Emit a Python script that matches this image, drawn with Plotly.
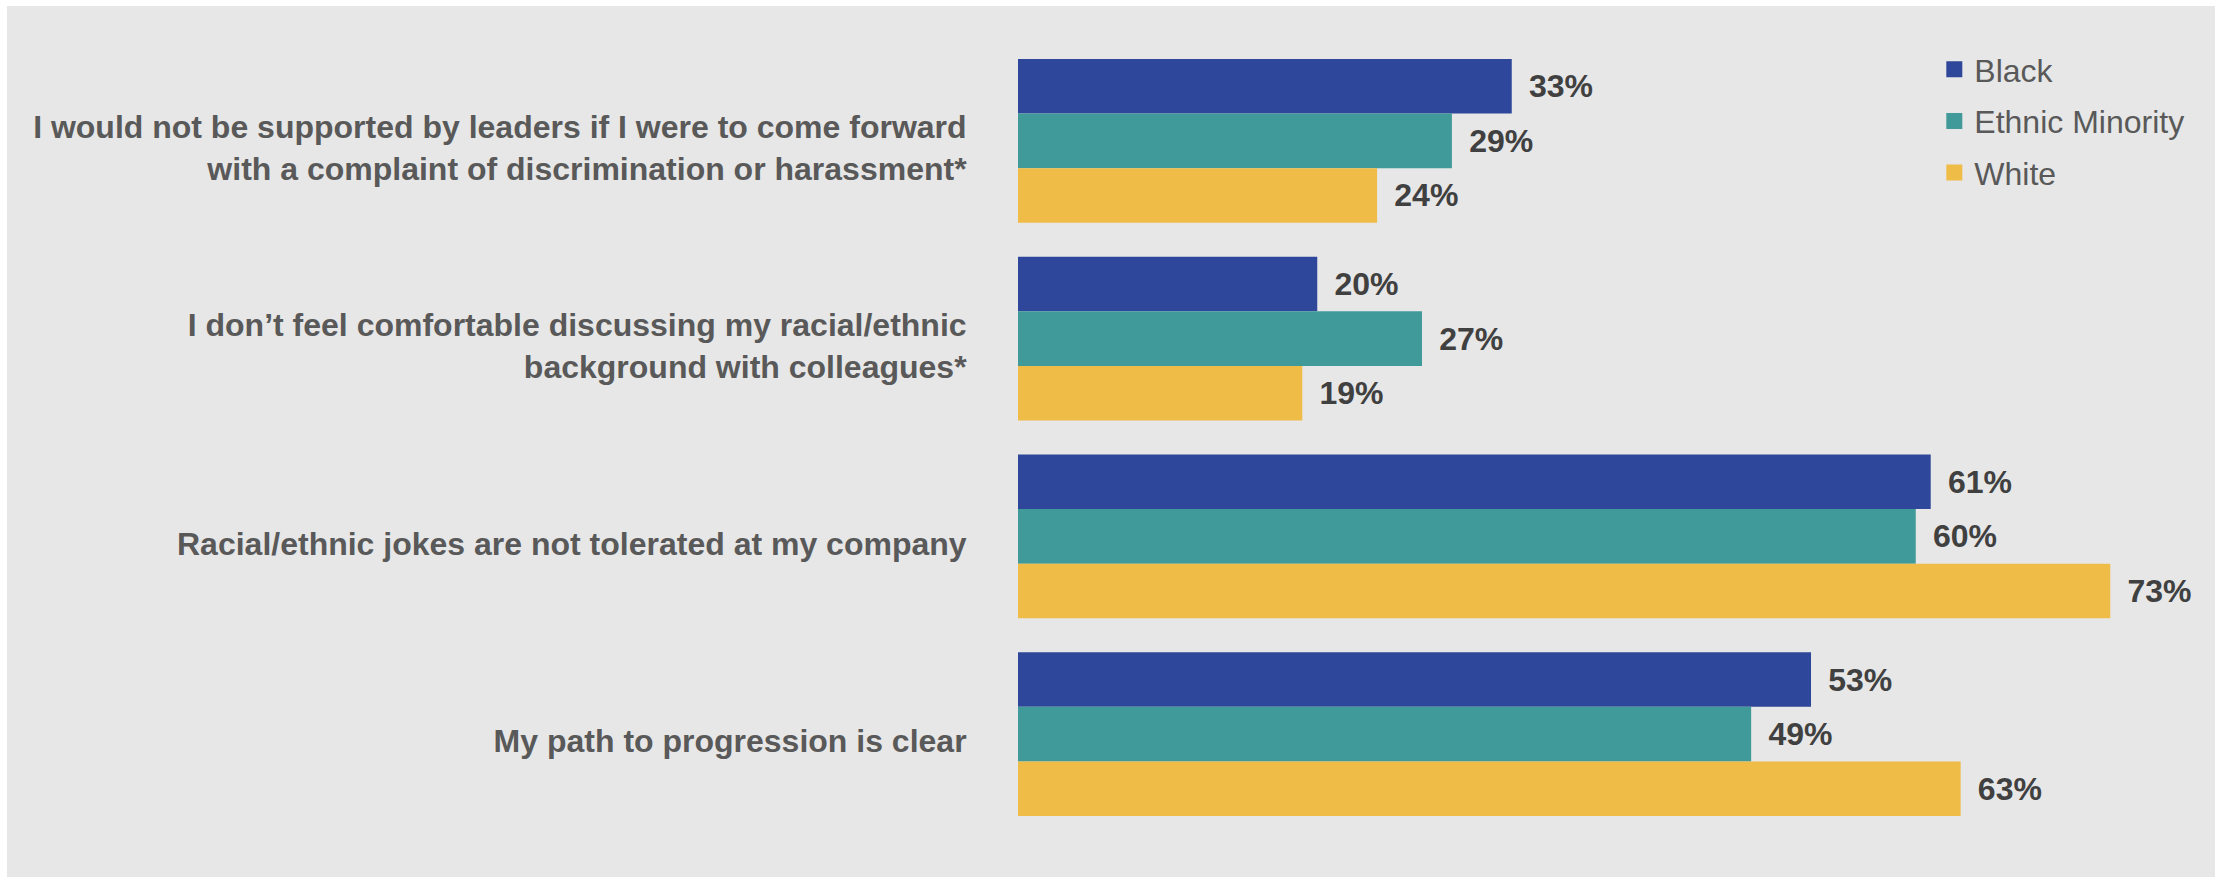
import plotly.graph_objects as go

# Survey statements (top to bottom)
statements = [
    "I would not be supported by leaders if I were to come forward<br>with a complaint of discrimination or harassment*",
    "I don\u2019t feel comfortable discussing my racial/ethnic<br>background with colleagues*",
    "Racial/ethnic jokes are not tolerated at my company",
    "My path to progression is clear",
]

# Share of respondents agreeing (%)
black = [33, 20, 61, 53]
ethnic_minority = [29, 27, 60, 49]
white = [24, 19, 73, 63]

series_names = ["Black", "Ethnic Minority", "White"]
series_values = [black, ethnic_minority, white]
series_colors = ["#2E479A", "#409A99", "#F0BC48"]

FONT = "Liberation Sans, Arial, sans-serif"
BG = "#E7E7E7"

W, H = 2221, 877
ML, MR, MT, MB = 1018, 6, 42, 44
PW = W - ML - MR
PH = H - MT - MB

fig = go.Figure()
for name, vals, color in zip(series_names, series_values, series_colors):
    fig.add_trace(go.Bar(
        name=name,
        y=statements,
        x=vals,
        orientation="h",
        marker=dict(color=color, line=dict(width=0)),
        texttemplate="\u00a0\u2006%{x}%",
        textposition="outside",
        textfont=dict(family=FONT, size=32, color="#404040", weight="bold"),
        cliponaxis=False,
        showlegend=False,
        hoverinfo="skip",
    ))

# legend entries with larger square swatches
for name, color in zip(series_names, series_colors):
    fig.add_trace(go.Scatter(
        name=name,
        x=[None], y=[None],
        mode="markers",
        marker=dict(symbol="square", size=16, color=color, line=dict(width=0)),
        legendgroup=name,
        hoverinfo="skip",
    ))

# light grey panel with a thin white frame around it
fig.add_shape(
    type="rect", xref="paper", yref="paper", layer="below",
    x0=(7 - ML) / PW, x1=(2215 - ML) / PW,
    y0=-(877 - (H - MB)) / PH, y1=1 + (MT - 6) / PH,
    fillcolor=BG, line=dict(width=0),
)

fig.update_layout(
    width=W, height=H,
    margin=dict(l=ML, r=MR, t=MT, b=MB, pad=0),
    paper_bgcolor="white",
    plot_bgcolor=BG,
    barmode="group",
    bargap=0.172,
    bargroupgap=0,
    font=dict(family=FONT, size=32, color="#595959"),
    legend=dict(
        x=0.7655, y=1.0, xanchor="left", yanchor="top",
        bgcolor="rgba(0,0,0,0)",
        font=dict(family=FONT, size=32, color="#595959"),
        tracegroupgap=7,
        traceorder="grouped",
        itemsizing="trace",
    ),
    xaxis=dict(
        range=[0, 80], visible=False, showgrid=False, zeroline=False,
    ),
    yaxis=dict(
        autorange="reversed",
        showgrid=False, zeroline=False, showline=False,
        ticks="outside", ticklen=44, tickcolor="rgba(0,0,0,0)",
        ticklabelshift=-7,
        tickfont=dict(family=FONT, size=32, color="#595959", weight="bold"),
    ),
)

fig.write_html("out.html")
